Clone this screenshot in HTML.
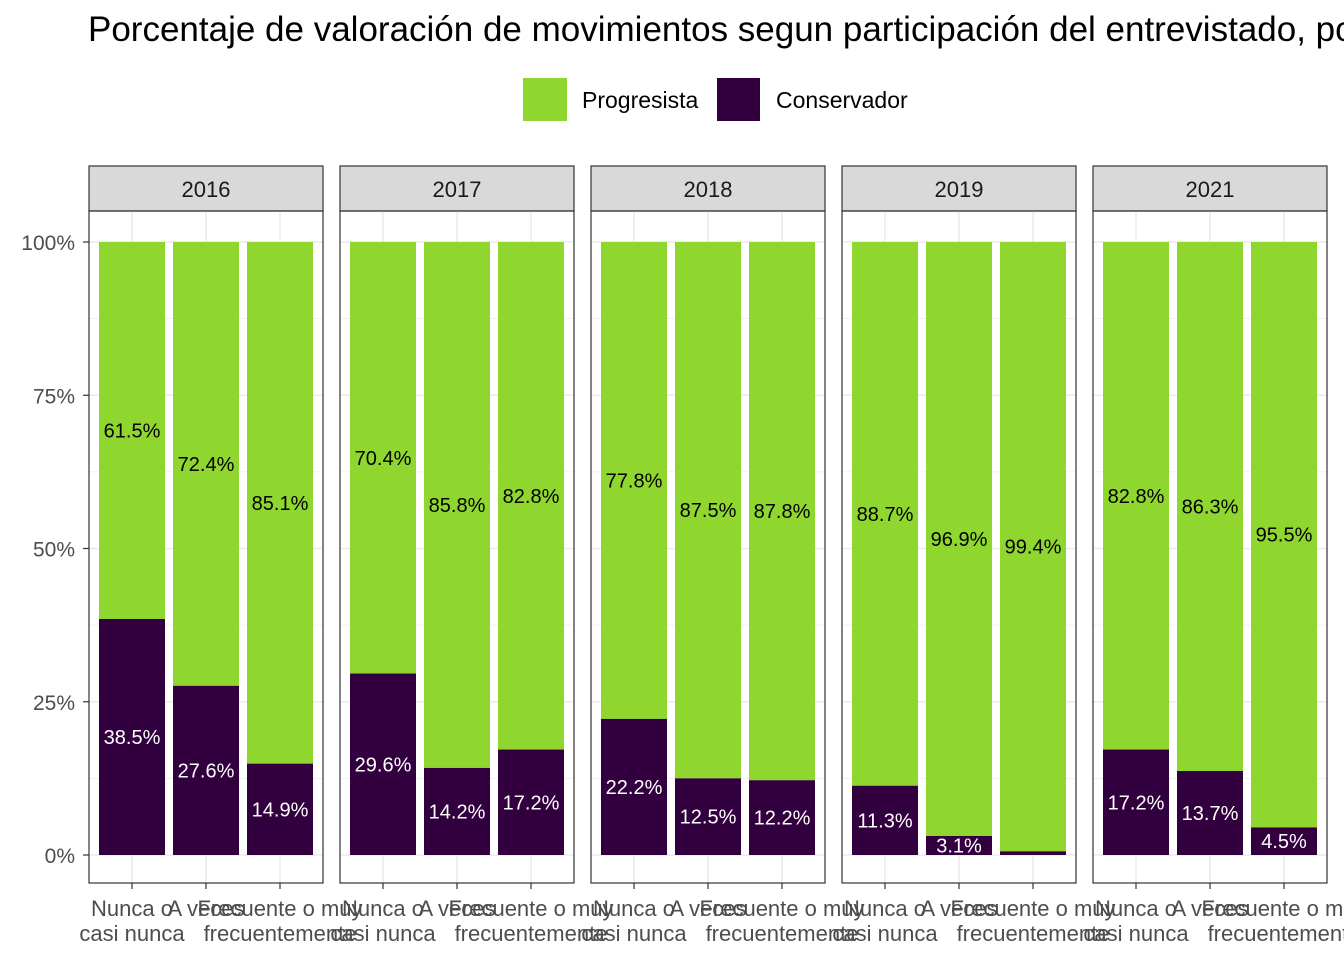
<!DOCTYPE html>
<html><head><meta charset="utf-8">
<style>
html,body{margin:0;padding:0;background:#fff;overflow:hidden;}
svg{display:block;font-family:"Liberation Sans",Arial,sans-serif;}
</style></head>
<body>
<svg id="chart" width="1344" height="960" viewBox="0 0 1344 960">
<text x="88" y="41" font-size="35" fill="#000">Porcentaje de valoración de movimientos segun participación del entrevistado, por año</text>
<g>
<rect x="523" y="78" width="44" height="43" fill="#8fd62f"/>
<text x="582" y="108" font-size="23">Progresista</text>
<rect x="717" y="78" width="43" height="43" fill="#33003f"/>
<text x="776" y="108" font-size="23">Conservador</text>
</g>
<g id="plot"></g>
</svg>
<script>
const years = ["2016","2017","2018","2019","2021"];
const categories = ["Nunca o\ncasi nunca","A veces","Frecuente o muy\nfrecuentemente"];
const conservador = [
  [38.5,27.6,14.9],
  [29.6,14.2,17.2],
  [22.2,12.5,12.2],
  [11.3,3.1,0.6],
  [17.2,13.7,4.5]
];
const yTicks = [0,25,50,75,100];
const yTickLabels = ["0%","25%","50%","75%","100%"];

const NS="http://www.w3.org/2000/svg";
const plot=document.getElementById('plot');
function mk(tag,attrs,parent){const e=document.createElementNS(NS,tag);for(const k in attrs)e.setAttribute(k,attrs[k]);(parent||plot).appendChild(e);return e;}
const panelX0=89, panelW=234, panelGap=17, pTop=211, pBot=883, stripTop=166;
const y=v=>855-(v/100)*613;
const band=74;

years.forEach((yr,pi)=>{
  const x0=panelX0+pi*(panelW+panelGap);
  const xc=i=>x0+43+i*band;
  const g=mk('g',{});
  
  
  const s=mk('rect',{x:x0,y:stripTop,width:panelW,height:pTop-stripTop,fill:'#d9d9d9',stroke:'#333','stroke-width':1.2},g);
  
  
  const st=mk('text',{x:x0+panelW/2,y:197,'font-size':22,'text-anchor':'middle',fill:'#1a1a1a'},g);
  st.textContent=yr;
  
  
  for(let v=0;v<=100;v+=12.5){
    const major=v%25===0;
    mk('line',{x1:x0,x2:x0+panelW,y1:y(v),y2:y(v),stroke:'#ebebeb','stroke-width':major?1.6:0.8},g);
  }
  categories.forEach((c,i)=>mk('line',{x1:xc(i),x2:xc(i),y1:pTop,y2:pBot,stroke:'#ebebeb','stroke-width':1.6},g));
  categories.forEach((c,i)=>{
    const cv=conservador[pi][i], pv=+(100-cv).toFixed(1);
    const bx=xc(i)-33;
    const gb=mk('rect',{x:bx,y:y(100),width:66,height:y(cv)-y(100),fill:'#8fd62f'},g);
    
    
    const pb=mk('rect',{x:bx,y:y(cv),width:66,height:y(0)-y(cv),fill:'#33003f'},g);
    
    
    const t1=mk('text',{x:xc(i),y:y(cv+pv/2)+7,'font-size':20,'text-anchor':'middle',fill:'#000'},g);
    t1.textContent=pv.toFixed(1)+'%';
    
    
    if(cv>=1){
      const t2=mk('text',{x:xc(i),y:y(cv/2)+7,'font-size':20,'text-anchor':'middle',fill:'#fff'},g);
      t2.textContent=cv.toFixed(1)+'%';
      
      
    }
    mk('line',{x1:xc(i),x2:xc(i),y1:pBot,y2:pBot+6,stroke:'#333','stroke-width':1.2},g);
    c.split('\n').forEach((ln,li)=>{
      const tl=mk('text',{x:xc(i),y:916+li*25,'font-size':22,'text-anchor':'middle',fill:'#4d4d4d'},g);
      tl.textContent=ln;
      
      
    });
  });
  mk('rect',{x:x0,y:pTop,width:panelW,height:pBot-pTop,fill:'none',stroke:'#333','stroke-width':1.2},g);
});
yTicks.forEach((v,i)=>{
  mk('line',{x1:83,x2:89,y1:y(v),y2:y(v),stroke:'#333','stroke-width':1.2});
  const t=mk('text',{x:75,y:y(v)+8,'font-size':21,'text-anchor':'end',fill:'#4d4d4d'});
  t.textContent=yTickLabels[i];
  
  
});
</script>
</body></html>
